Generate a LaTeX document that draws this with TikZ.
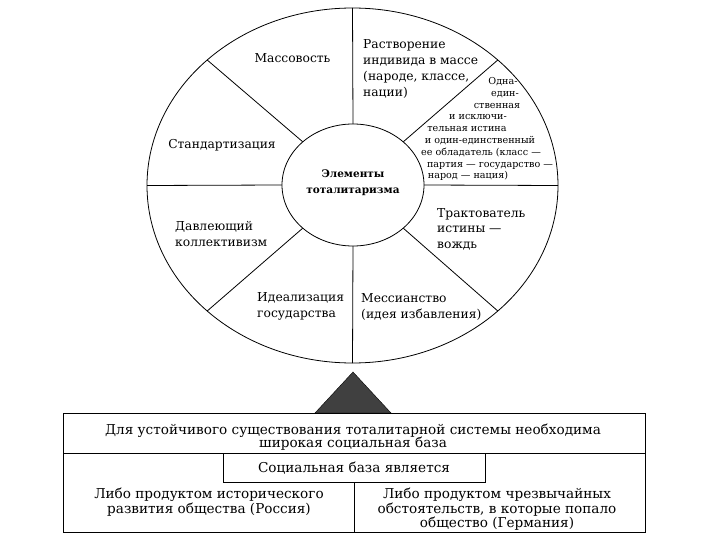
\documentclass[tikz,border=0pt]{standalone}
\usepackage{fontspec}
\setmainfont{DejaVu Serif}
\usetikzlibrary{shapes.geometric}
\begin{document}
\begin{tikzpicture}[x=1pt,y=-1pt,
  ln/.style={line width=0.8pt},
  lbl/.style={inner sep=0pt, anchor=base, font=\fontsize{12.3}{14}\selectfont},
  lbll/.style={inner sep=0pt, anchor=base west, font=\fontsize{12.3}{14}\selectfont},
  sml/.style={inner sep=0pt, anchor=base, font=\fontsize{9.6}{11}\selectfont},
  btxt/.style={inner sep=0pt, anchor=base, font=\fontsize{13.6}{14}\selectfont},
  ttl/.style={inner sep=0pt, anchor=base, font=\fontsize{10.5}{12}\selectfont\bfseries}]
\useasboundingbox (0,0) rectangle (720,540);
% wheel
\node[draw, ln, ellipse, minimum width=411pt, minimum height=355pt, inner sep=0pt] (outer) at (352.5,185.5) {};
\foreach \a in {0,45,...,315}{
  \coordinate (o\a) at ({352.5+205.5*cos(\a)},{185.5-177.5*sin(\a)});
  \coordinate (i\a) at ({353+71*cos(\a)},{185-61*sin(\a)});
  \draw[ln] (i\a) -- (o\a);
}
\node[draw, ln, ellipse, fill=white, minimum width=142pt, minimum height=122pt, inner sep=0pt] (core) at (353,185) {};
\node[ttl] (t1) at (353,178) {Элементы};
\node[ttl] (t2) at (353,194) {тоталитаризма};
% sector labels
\node[lbl] (m1) at (292.5,63) {Массовость};
\node[lbll] (r1) at (363,49) {Растворение};
\node[lbll] (r2) at (363,65) {индивида в массе};
\node[lbll] (r3) at (363,81) {(народе, классе,};
\node[lbll] (r4) at (363,97) {нации)};
\node[sml] (s1) at (503,85) {Одна-};
\node[sml] (s2) at (505,97) {един-};
\node[sml] (s3) at (497,109) {ственная};
\node[sml] (s4) at (478,120) {и исключи-};
\node[sml] (s5) at (467,132) {тельная истина};
\node[sml] (s6) at (480,144) {и один-единственный};
\node[sml] (s7) at (481,156) {ее обладатель (класс —};
\node[sml] (s8) at (490,168) {партия — государство —};
\node[sml] (s9) at (468,179) {народ — нация)};
\node[lbl] (st) at (222,149) {Стандартизация};
\node[lbll] (d1) at (175,230) {Давлеющий};
\node[lbll] (d2) at (175,246) {коллективизм};
\node[lbll] (g1) at (257,301) {Идеализация};
\node[lbll] (g2) at (257,317) {государства};
\node[lbll] (k1) at (437,218) {Трактователь};
\node[lbll] (k2) at (437,233) {истины —};
\node[lbll] (k3) at (437,248) {вождь};
\node[lbll] (e1) at (361,302) {Мессианство};
\node[lbll] (e2) at (361,318) {(идея избавления)};
% triangle
\fill[black!75, draw=black] (353,372) -- (315,413) -- (391,413) -- cycle;
% bottom box
\node[draw, line width=1pt, minimum width=582pt, minimum height=119pt, inner sep=0pt, anchor=north west] (box) at (63,413) {};
\draw[line width=1pt] (63,453) -- (645,453);
\node[btxt] (b1) at (353,434) {Для устойчивого существования тоталитарной системы необходима};
\node[btxt] (b2) at (353,447) {широкая социальная база};
\node[draw, ln, fill=white, minimum width=262pt, minimum height=29pt, inner sep=0pt, anchor=north, font=\fontsize{13.6}{14}\selectfont] (sb) at (354,453) {Социальная база является};
\draw[ln] (sb.south) -- (sb.south |- box.south);
\node[btxt] (l1) at (209,498) {Либо продуктом исторического};
\node[btxt] (l2) at (209,513) {развития общества (Россия)};
\node[btxt] (p1) at (497,498) {Либо продуктом чрезвычайных};
\node[btxt] (p2) at (497,513) {обстоятельств, в которые попало};
\node[btxt] (p3) at (497,527) {общество (Германия)};
\end{tikzpicture}
\end{document}
